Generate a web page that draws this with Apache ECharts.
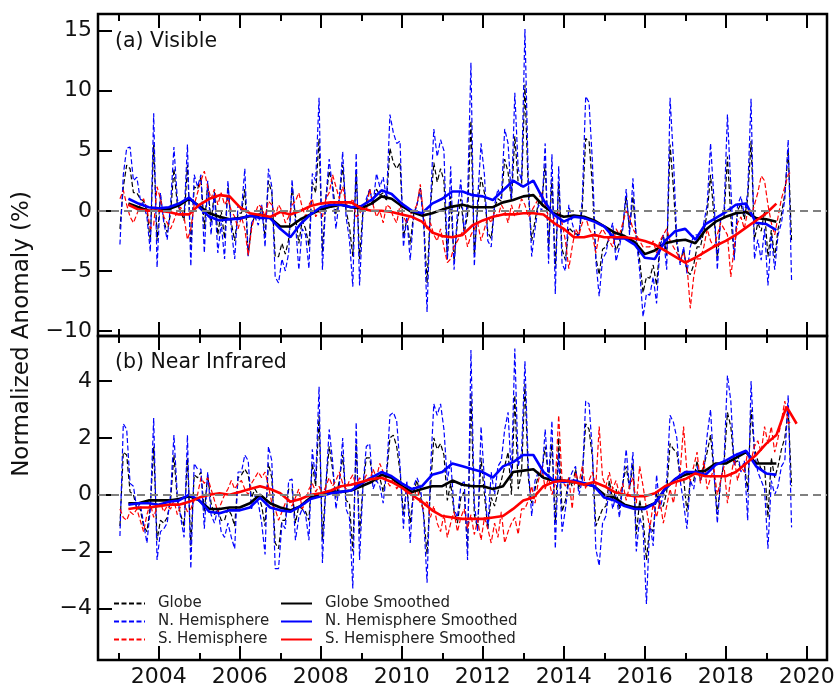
<!DOCTYPE html>
<html>
<head>
<meta charset="utf-8">
<script src="https://cdn.jsdelivr.net/npm/echarts@6/dist/echarts.min.js"></script>
<style>
  html, body { margin: 0; padding: 0; background: #fff; }
  #chart { width: 838px; height: 688px; }
</style>
</head>
<body>
<div id="chart"></div>
<script>
// monthly anomalies, Jan 2003 .. Aug 2019 (one row per year)
const visGlobe = [
  -1.5, 2.0, 3.8, 3.5, 1.5, 1.5, 1.0, 0.8, 0.0, -2.5, 5.5, -2.5,
  1.2, -0.8, -1.8, -0.2, 3.5, 0.5, 0.0, -0.8, 3.8, -3.0, 2.0, 1.8,
  2.8, -1.5, 2.3, -1.0, 1.6, -2.0, 0.0, -2.3, 2.0, -1.0, -2.5, -0.2,
  -0.2, 1.8, -3.7, -1.2, -0.4, -0.5, 0.4, -2.2, 2.5, 1.5, -3.8, -3.8,
  -2.7, -3.6, -2.4, 2.0, -0.4, -2.7, -0.8, -1.5, -2.9, 2.4, 1.5, 6.0,
  -3.4, 1.0, 3.3, 2.2, -0.3, 1.0, 3.8, 0.0, -1.3, -3.8, 3.2, -4.0,
  0.0, 0.7, 1.8, 0.5, 1.8, 1.3, 1.5, 0.8, 5.2, 4.0, 3.5, 4.0,
  -2.2, -0.7, -2.8, -0.3, 0.5, 1.9, -0.8, -6.0, 0.2, 4.0, 2.4, 3.5,
  2.5, -4.1, 1.2, -4.2, -0.9, 1.0, -1.8, -0.4, 7.5, -3.7, 0.3, 2.8,
  1.5, -1.8, -2.3, 0.3, 1.0, 0.8, 4.3, 3.2, 0.8, 6.2, 2.3, 2.0,
  10.5, 1.5, -2.5, -0.8, 0.7, 0.6, 3.9, -3.0, 2.7, -4.8, 2.4, -3.2,
  -4.1, -1.4, -1.7, -1.9, -2.0, 0.3, 6.0, 5.8, 2.0, -3.9, -5.3, -3.2,
  -3.0, -2.2, -1.7, -3.3, -2.6, -1.3, 1.2, -1.5, 1.2, -2.3, -4.1, -6.8,
  -5.5, -5.6, -4.5, -6.2, -2.8, -2.0, -3.7, 5.5, 1.9, -2.8, -4.3, -3.2,
  -5.0, -5.3, -4.5, -3.0, -3.0, -1.7, -0.2, 3.0, -0.4, -3.9, -0.7, -0.5,
  4.5, -0.5, -3.8, 0.0, 0.6, -0.7, 1.0, 5.8, -2.4, -1.0, -1.7, 0.0,
  -3.8, -1.6, -3.9, -1.5, -0.3, 1.4, 5.0, -2.5
];
const visNH = [
  -2.8, 3.0, 5.2, 5.3, 2.5, 2.8, 1.0, 0.5, -0.5, -3.4, 8.1, -4.7,
  1.5, -1.0, -2.4, 0.5, 5.3, 1.0, -0.3, -0.5, 5.5, -4.6, 3.0, 2.0,
  3.0, -3.5, 2.5, -2.0, 1.5, -3.5, -1.0, -4.0, 2.5, -1.5, -4.0, 0.5,
  0.0, 3.5, -3.8, -1.0, -0.5, -1.2, 0.5, -3.0, 3.5, 2.0, -5.5, -6.0,
  -4.0, -5.0, -3.5, 2.6, -1.0, -4.9, -1.5, -2.0, -4.8, 3.1, 2.5, 9.4,
  -4.9, 1.0, 4.3, 1.8, -1.5, 1.0, 4.9, -0.5, -2.4, -6.3, 4.8, -6.2,
  -0.2, 1.0, 1.8, 0.5, 3.1, 2.0, 2.8, 1.0, 8.0, 6.5, 5.6, 5.8,
  -3.0, -0.5, -4.1, -0.5, 0.5, 1.8, -1.0, -8.4, 0.5, 6.8, 4.5, 5.9,
  5.0, -4.0, 3.7, -4.9, 0.0, 2.6, -2.0, 1.0, 12.3, -4.6, 1.0, 5.6,
  3.0, -2.5, -3.0, 0.5, 1.8, 1.0, 6.8, 5.6, 1.0, 9.8, 3.5, 2.5,
  15.1, 2.6, -3.8, -1.5, 0.5, 0.0, 5.6, -4.4, 4.7, -6.9, 3.7, -4.4,
  -5.0, 0.5, -1.0, -2.1, -2.0, 1.0, 9.5, 9.0, 4.0, -4.1, -7.1, -4.0,
  -3.5, -2.0, -1.0, -4.2, -3.0, -1.5, 1.8, -2.0, 2.7, -2.4, -5.0, -8.8,
  -6.9, -7.0, -5.5, -7.7, -3.0, -2.0, -4.9, 9.4, 4.3, -2.4, -4.5, -3.0,
  -5.2, -3.0, -2.0, -2.0, -2.4, -1.0, 0.5, 5.6, 1.0, -4.9, -0.5, 0.0,
  8.0, 2.0, -4.1, 0.5, 1.2, -0.3, 1.5, 9.3, -4.0, -2.4, -4.1, -1.5,
  -6.2, -2.0, -4.9, -2.0, -1.0, 1.0, 5.9, -5.8
];
const visSH = [
  1.0, 1.7, 0.5, -0.5, -1.0, -0.3, 0.5, 1.0, 0.2, -1.5, -1.2, 2.0,
  1.0, -0.5, -1.0, -1.5, -0.8, 0.0, 0.3, -0.5, -2.4, -1.5, 0.5, 1.5,
  2.5, 3.3, 2.0, 1.0, 1.8, 0.5, 1.5, 0.5, 1.0, 0.0, -0.5, -1.5,
  -0.5, -1.5, -3.7, -1.5, -0.3, 0.5, 0.3, -0.5, 0.8, 0.5, -0.5, 0.5,
  0.0, -1.0, -0.5, 0.5, 0.8, 1.5, 0.3, -0.5, 0.5, 1.0, -0.5, 0.0,
  -0.5, 1.0, 1.5, 3.0, 2.0, 1.0, 2.0, 0.5, 0.5, 1.0, -0.5, -0.3,
  0.5, 0.0, 1.8, 0.5, -0.5, 0.0, -1.0, 0.5, 0.3, -0.5, -1.0, 0.5,
  -0.5, -1.0, -0.3, 0.0, 0.5, 2.2, -0.5, -1.5, -1.0, -2.0, -2.5, -1.5,
  -3.0, -4.3, -4.0, -3.0, -2.5, -2.0, -1.5, -3.0, -2.0, -1.5, -1.0, -2.5,
  -1.5, -0.5, -1.0, 0.0, -0.5, 0.5, 0.0, -1.0, 0.5, -0.5, 0.0, 1.0,
  0.5, -0.5, 0.0, 0.5, 1.0, 1.5, 0.5, -0.5, -1.0, -0.5, 0.0, -1.0,
  -2.5, -4.8, -3.0, -1.5, -2.0, -1.0, -0.5, -1.5, -2.0, -3.5, -2.0, -1.5,
  -2.0, -2.5, -3.0, -1.5, -2.0, -1.0, 0.0, -0.5, -1.5, -2.0, -2.5, -3.0,
  -3.0, -3.0, -2.5, -3.5, -2.5, -2.0, -1.5, -2.5, -3.0, -3.5, -4.0, -3.5,
  -4.5, -8.1, -5.5, -4.0, -4.0, -3.0, -1.5, -2.5, -3.0, -2.0, -1.0, -1.5,
  -2.0, -5.5, -3.0, -1.0, -0.5, -1.5, 0.0, -0.5, 0.5, 1.5, 2.9, 2.5,
  0.5, -1.0, -2.0, -0.5, 1.0, 2.0, 3.0, 3.3
];
const nirGlobe = [
  -1.1, 1.5, 1.4, 0.1, 0.0, -0.5, -0.5, -1.1, -1.3, -0.4, 1.7, -1.6,
  -0.9, -1.0, -0.8, -0.2, 1.4, -0.2, -0.7, -1.1, 1.3, -1.8, 0.7, 0.6,
  0.8, -0.6, 0.7, -0.3, -0.7, -0.5, -0.9, -0.9, -0.5, -0.7, -1.1, 0.6,
  0.7, 0.9, 0.7, -0.1, 0.2, 0.0, -0.4, -1.1, 1.1, 0.6, -1.7, -1.9,
  -0.9, -0.9, 0.2, 0.2, -1.0, -0.4, -0.5, -0.6, -0.9, 1.1, 0.3, 2.8,
  -1.6, 0.3, 1.7, 0.9, -0.1, 0.5, 1.4, -0.2, -0.3, -2.0, 1.8, -1.4,
  0.3, 1.3, 1.3, 0.5, 0.5, 0.6, 0.1, 0.7, 2.0, 2.1, 1.7, 0.8,
  -0.7, 0.3, -1.0, 0.1, 0.5, 0.0, -0.7, -2.1, 0.2, 2.0, 1.6, 1.8,
  1.4, -0.2, 0.4, -0.6, -1.0, -0.1, 0.1, -1.9, 3.6, -0.7, -1.2, 1.3,
  0.0, -1.2, -0.1, -0.4, 0.1, 0.5, 1.0, 1.5, 0.0, 3.5, 0.2, 0.8,
  3.9, 0.6, -0.3, 0.2, 0.7, 0.8, 1.7, 0.6, 1.8, -1.0, 2.0, -0.6,
  -0.2, 0.6, 0.3, 0.9, 0.2, 0.7, 2.5, 2.3, 1.3, -1.1, -0.8, -0.5,
  -0.4, 0.5, -0.2, 0.2, -0.5, 0.4, 1.0, 0.2, 1.1, -1.4, -0.2, -0.8,
  -2.3, -1.1, -1.3, 0.1, -0.4, -0.4, 0.1, 1.8, 1.6, 1.5, 0.6, 0.6,
  -0.6, 0.5, 0.5, 1.2, 0.5, 1.0, 1.5, 2.1, 0.8, -0.7, 0.5, 1.1,
  2.9, 2.4, 1.1, 1.2, 0.9, 1.1, 0.1, 3.0, 1.6, 1.2, 0.9, 1.0,
  -0.8, 1.3, 0.6, 1.0, 1.6, 2.0, 3.0, 0.3
];
const nirNH = [
  -1.45, 2.5, 2.3, 0.4, 0.3, -0.5, -0.3, -1.0, -1.7, -0.5, 2.7, -2.3,
  -1.3, -1.2, -1.0, 0.0, 2.1, 0.0, -0.8, -1.5, 2.1, -2.6, 1.1, 0.9,
  0.9, -1.2, 0.8, -0.7, -1.0, -0.5, -1.3, -1.5, -1.0, -1.5, -1.9, 0.8,
  0.8, 1.4, 1.2, -0.5, 0.0, -0.3, -1.0, -2.1, 1.7, 1.2, -2.6, -2.6,
  -1.0, -1.2, 0.5, 0.55, -1.6, -0.8, -0.5, -0.7, -1.6, 1.6, 0.5, 3.8,
  -2.4, 0.3, 2.3, 1.2, -0.5, 0.3, 2.0, -0.5, -0.8, -3.3, 2.55, -2.3,
  0.3, 1.7, 1.8, 0.2, 0.5, 0.3, -0.3, 0.8, 2.8, 2.9, 2.6, 1.0,
  -1.2, 0.5, -1.7, 0.3, 0.6, 0.3, -0.8, -3.1, 0.8, 3.2, 2.8, 3.2,
  2.3, 0.5, 1.2, -0.5, -0.8, 0.3, 0.5, -2.3, 5.1, -0.3, -1.3, 2.4,
  0.5, -1.2, 0.8, 0.0, 1.0, 1.2, 2.3, 2.9, 0.6, 5.15, 1.0, 1.5,
  4.7, 1.0, -0.75, 0.5, 0.8, 0.6, 2.3, 0.5, 2.6, -1.9, 1.5, -1.3,
  -0.5, 0.5, 0.8, 1.0, 0.0, 0.5, 3.3, 3.2, 1.5, -1.9, -2.5, -1.0,
  -0.75, 0.3, -0.5, 0.0, -0.8, 0.4, 1.6, 0.2, 1.5, -2.0, -0.8, -1.2,
  -3.85, -1.0, -1.8, 0.7, -0.5, 0.0, 0.5, 2.8, 2.55, 2.0, 0.5, -0.3,
  -1.2, 0.5, 0.2, 1.0, 0.5, 0.8, 2.1, 3.0, 0.8, -1.0, 0.5, 1.2,
  4.2, 3.3, 1.0, 1.5, 0.8, 1.2, -0.9, 4.0, 1.5, 0.8, 0.5, 0.2,
  -1.9, 0.5, 0.0, 0.3, 1.0, 1.2, 3.5, -1.15
];
const nirSH = [
  -0.5, -0.8, -0.9, -0.6, -0.7, -0.5, -0.9, -1.3, -0.7, -0.3, -0.8, -0.4,
  -0.3, -0.6, -0.4, -0.5, -0.2, -0.7, -0.4, -0.3, -0.6, -0.5, -0.2, 0.0,
  0.6, 0.4, 0.6, 0.2, -0.2, -0.6, -0.3, 0.0, 0.2, 0.5, 0.2, 0.4,
  0.5, 0.2, 0.0, 0.4, 0.6, 0.8, 0.6, 0.8, 0.3, -0.3, -0.5, -0.9,
  -0.6, -0.3, -0.2, -0.4, -0.1, 0.2, -0.5, -0.3, 0.2, 0.4, 0.1, 0.3,
  0.0, 0.3, 0.6, 0.3, 0.5, 0.8, 0.4, 0.2, 0.5, 0.7, 0.3, 0.6,
  0.4, 0.7, 0.5, 0.9, 0.6, 1.1, 0.8, 0.5, 0.3, 0.6, 0.2, 0.4,
  0.3, 0.0, 0.2, -0.2, 0.3, -0.3, -0.5, -0.2, -0.8, -0.4, -1.0, -1.3,
  -0.7, -1.5, -1.0, -0.6, -1.3, -0.8, -0.5, -1.2, -0.7, -1.4, -0.9, -1.6,
  -0.8, -1.2, -1.7, -1.0, -1.5, -0.6, -1.7, -1.3, -1.0, -0.8, -1.4, -0.5,
  -0.5, -0.2, 0.3, -0.3, 0.5, 1.0, 0.2, 0.6, 0.0, 0.4, 2.8, 0.5,
  0.3, 0.6, -0.5, 0.8, 0.4, 1.0, 0.2, 0.5, 0.8, 0.3, 2.4, 0.6,
  0.3, 0.8, 0.2, 0.5, 0.0, 0.4, -0.2, 0.3, 0.6, -0.3, 1.0, 0.3,
  -0.5, -1.2, -0.3, -0.8, -0.2, -1.0, -0.4, 0.2, -0.3, 0.5, 0.8, 2.4,
  0.8, 0.5, 1.0, 1.5, 0.4, 1.2, 0.2, 0.6, 0.9, 0.0, 0.5, 1.0,
  -0.3, 0.6, 1.3, 0.5, 1.0, 0.8, 1.5, 1.2, 1.7, 1.9, 1.5, 2.4,
  1.8, 2.4, 1.5, 2.0, 2.6, 3.3, 2.5, 2.6
];

// smoothed curves, quarterly from 2003.25 to 2019.75
const visGlobeSm = [
  0.6, 0.3, 0.0,
  0.0, 0.15, 0.45, 1.0,
  0.4, -0.2, -0.5, -0.7,
  -0.6, -0.45, -0.3, -0.6,
  -1.3, -1.3, -0.7, -0.3,
  0.1, 0.35, 0.5, 0.3,
  0.2, 0.6, 1.2, 1.0,
  0.4, -0.1, -0.4, -0.2,
  0.1, 0.35, 0.5, 0.3,
  0.3, 0.3, 0.7, 0.9,
  1.2, 1.3, 0.4, -0.2,
  -0.5, -0.4, -0.5, -0.8,
  -1.3, -1.8, -2.1, -2.6,
  -3.6, -3.3, -2.7, -2.5,
  -2.4, -2.7, -1.6, -0.9,
  -0.5, -0.2, -0.1, -0.6,
  -0.7, -0.9, null, null
];
const visNHSm = [
  1.0, 0.6, 0.3,
  0.2, 0.3, 0.6, 1.1,
  0.3, -0.5, -0.8, -0.7,
  -0.65, -0.4, -0.6, -0.6,
  -1.5, -2.2, -1.1, -0.3,
  0.3, 0.5, 0.5, 0.3,
  0.4, 0.9, 1.7, 1.4,
  0.6, 0.0, -0.2, 0.6,
  1.0, 1.6, 1.6, 1.3,
  1.2, 0.9, 1.7, 2.5,
  2.0, 2.5, 0.9, -0.3,
  -0.9, -0.5, -0.6, -0.9,
  -1.3, -2.3, -2.3, -2.8,
  -3.9, -4.0, -2.5, -1.7,
  -1.5, -2.4, -1.1, -0.6,
  -0.1, 0.5, 0.6, -1.0,
  -1.1, -1.6, null, null
];
const visSHSm = [
  0.5, 0.1, 0.0,
  0.0, -0.1, -0.3, -0.3,
  0.5, 1.0, 1.3, 1.2,
  0.3, -0.2, -0.35, -0.5,
  -0.1, -0.3, 0.0, 0.4,
  0.6, 0.7, 0.7, 0.7,
  0.2, 0.0, 0.0, -0.1,
  -0.3, -0.5, -0.9, -1.8,
  -2.1, -2.2, -2.0, -1.2,
  -0.8, -0.5, -0.3, -0.3,
  -0.2, -0.2, -0.3, -1.0,
  -1.5, -2.2, -2.2, -2.0,
  -2.2, -2.2, -2.2, -2.3,
  -2.5, -2.8, -3.3, -3.8,
  -4.3, -3.9, -3.4, -2.9,
  -2.5, -2.0, -1.4, -0.8,
  -0.2, 0.6, null, null
];
const nirGlobeSm = [
  -0.3, -0.3, -0.2,
  -0.2, -0.2, -0.15, -0.05,
  -0.2, -0.5, -0.5, -0.45,
  -0.45, -0.3, 0.0, -0.3,
  -0.45, -0.55, -0.4, -0.1,
  0.0, 0.1, 0.1, 0.15,
  0.3, 0.45, 0.7, 0.6,
  0.3, 0.1, 0.2, 0.3,
  0.3, 0.5, 0.35, 0.3,
  0.3, 0.2, 0.3, 0.8,
  0.85, 0.9, 0.6, 0.5,
  0.5, 0.45, 0.4, 0.3,
  0.0, -0.1, -0.35, -0.45,
  -0.45, -0.3, 0.2, 0.55,
  0.7, 0.8, 0.85, 1.1,
  1.1, 1.3, 1.5, 1.1,
  1.1, 1.1, null, null
];
const nirNHSm = [
  -0.35, -0.3, -0.3,
  -0.35, -0.25, -0.2, 0.0,
  -0.2, -0.6, -0.65, -0.55,
  -0.55, -0.45, -0.1, -0.45,
  -0.55, -0.6, -0.4, -0.15,
  -0.05, 0.05, 0.1, 0.15,
  0.4, 0.6, 0.8, 0.65,
  0.4, 0.2, 0.3, 0.7,
  0.8, 1.1, 1.0, 0.9,
  0.8, 0.6, 1.0, 1.15,
  1.4, 1.4, 0.8, 0.5,
  0.45, 0.5, 0.4, 0.3,
  -0.1, -0.2, -0.4, -0.5,
  -0.5, -0.3, 0.2, 0.55,
  0.8, 0.8, 0.7, 1.05,
  1.2, 1.4, 1.55, 1.0,
  0.75, 0.7, null, null
];
const nirSHSm = [
  -0.5, -0.45, -0.45,
  -0.4, -0.35, -0.35, -0.25,
  -0.1, 0.0, 0.05, 0.0,
  0.1, 0.2, 0.3, 0.2,
  0.05, -0.25, -0.15, 0.0,
  0.05, 0.15, 0.3, 0.35,
  0.45, 0.55, 0.6, 0.45,
  0.25, 0.0, -0.25, -0.55,
  -0.75, -0.8, -0.85, -0.85,
  -0.85, -0.8, -0.75, -0.5,
  -0.2, -0.1, 0.3, 0.45,
  0.5, 0.45, 0.35, 0.45,
  0.3, 0.1, 0.0, -0.05,
  -0.05, 0.05, 0.3, 0.45,
  0.55, 0.75, 0.65, 0.65,
  0.65, 0.8, 1.1, 1.4,
  1.8, 2.1, 3.1, 2.5
];

const legendRaw = ['Globe', 'N. Hemisphere', 'S. Hemisphere'];
const legendSmooth = ['Globe Smoothed', 'N. Hemisphere Smoothed', 'S. Hemisphere Smoothed'];
const colors = ['#000000', '#0000ff', '#ff0000'];

// x positions: mid-month for raw data, quarter marks for smoothed
const monthYears = visGlobe.map((v, i) => 2003 + (i + 0.5) / 12);
const smoothYears = visGlobeSm.map((v, i) => 2003.25 + i * 0.25);

const FONT = 'DejaVu Sans';
const pairs = (xs, ys) => ys.map((v, i) => [xs[i], v]);
const minus = v => String(v).replace('-', '\u2212');

function xAxisCfg(gridIndex, position, showLabels) {
  return {
    type: 'value', gridIndex: gridIndex, position: position,
    min: 2002.5, max: 2020.5, minInterval: 2, maxInterval: 2, splitNumber: 9,
    axisLine: { show: false, onZero: false },
    axisTick: { show: true, inside: true, length: 14, lineStyle: { color: '#000', width: 2 } },
    minorTick: { show: true, splitNumber: 2, length: 7, lineStyle: { color: '#000', width: 2 } },
    splitLine: { show: false },
    axisLabel: {
      show: showLabels, margin: 6, fontFamily: FONT, fontSize: 22, color: '#111',
      formatter: v => (Number.isInteger(v) && v % 2 === 0) ? String(v) : ''
    }
  };
}

function yAxisCfg(gridIndex, min, max, step) {
  return {
    type: 'value', gridIndex: gridIndex, min: min, max: max,
    minInterval: step, maxInterval: step, splitNumber: 5,
    axisLine: { show: false, onZero: false },
    axisTick: { show: true, inside: true, length: 14, lineStyle: { color: '#000', width: 2 } },
    splitLine: { show: false },
    axisLabel: {
      margin: 6, fontFamily: FONT, fontSize: 22, color: '#111',
      formatter: v => (Number.isInteger(v) && v % step === 0) ? minus(v) : ''
    }
  };
}

const zeroLine = {
  silent: true, symbol: 'none', label: { show: false },
  lineStyle: { color: '#808080', type: [8, 5], width: 2 },
  data: [{ yAxis: 0 }]
};

function panelSeries(axisIndex, raw, smooth) {
  const out = [];
  raw.forEach((vals, k) => {
    out.push({
      name: legendRaw[k], type: 'line', xAxisIndex: axisIndex, yAxisIndex: axisIndex,
      data: pairs(monthYears, vals), symbol: 'none', silent: true,
      lineStyle: { color: colors[k], width: 1.2, type: [5, 2.5] },
      itemStyle: { color: colors[k] },
      markLine: k === 0 ? zeroLine : undefined
    });
  });
  smooth.forEach((vals, k) => {
    out.push({
      name: legendSmooth[k], type: 'line', xAxisIndex: axisIndex, yAxisIndex: axisIndex,
      data: pairs(smoothYears, vals), symbol: 'none', silent: true,
      lineStyle: { color: colors[k], width: 2.6 },
      itemStyle: { color: colors[k] }
    });
  });
  return out;
}

const legendCommon = {
  orient: 'vertical', top: 596, padding: 0, itemWidth: 31, itemHeight: 14, itemGap: 3,
  selectedMode: false,
  itemStyle: { opacity: 0, borderWidth: 0 },
  textStyle: { fontFamily: FONT, fontSize: 15, color: '#222', padding: [0, 0, 0, 8] }
};

const chart = echarts.init(document.getElementById('chart'), null, { renderer: 'canvas' });
chart.setOption({
  animation: false,
  backgroundColor: '#fff',
  grid: [
    { left: 98, right: 11, top: 14, height: 322, show: true, borderColor: '#000', borderWidth: 2.5 },
    { left: 98, right: 11, top: 336, height: 324, show: true, borderColor: '#000', borderWidth: 2.5 }
  ],
  xAxis: [
    xAxisCfg(0, 'bottom', false),
    xAxisCfg(1, 'bottom', true),
    xAxisCfg(0, 'top', false),
    xAxisCfg(1, 'top', false)
  ],
  yAxis: [
    yAxisCfg(0, -10.4, 16.35, 5),
    yAxisCfg(1, -5.82, 5.59, 2)
  ],
  legend: [
    Object.assign({ left: 113, data: legendRaw }, legendCommon),
    Object.assign({ left: 280, data: legendSmooth }, legendCommon)
  ],
  graphic: [
    { type: 'text', x: 115, y: 42, silent: true,
      style: { text: '(a) Visible', font: '20.5px "DejaVu Sans"', fill: '#111', verticalAlign: 'middle' } },
    { type: 'text', x: 115, y: 363, silent: true,
      style: { text: '(b) Near Infrared', font: '20.5px "DejaVu Sans"', fill: '#111', verticalAlign: 'middle' } },
    { type: 'text', x: 22, y: 334, rotation: Math.PI / 2, silent: true,
      style: { text: 'Normalized Anomaly (%)', font: '23px "DejaVu Sans"', fill: '#111', align: 'center', verticalAlign: 'middle' } }
  ],
  series: panelSeries(0, [visGlobe, visNH, visSH], [visGlobeSm, visNHSm, visSHSm])
    .concat(panelSeries(1, [nirGlobe, nirNH, nirSH], [nirGlobeSm, nirNHSm, nirSHSm]))
});
</script>
</body>
</html>
